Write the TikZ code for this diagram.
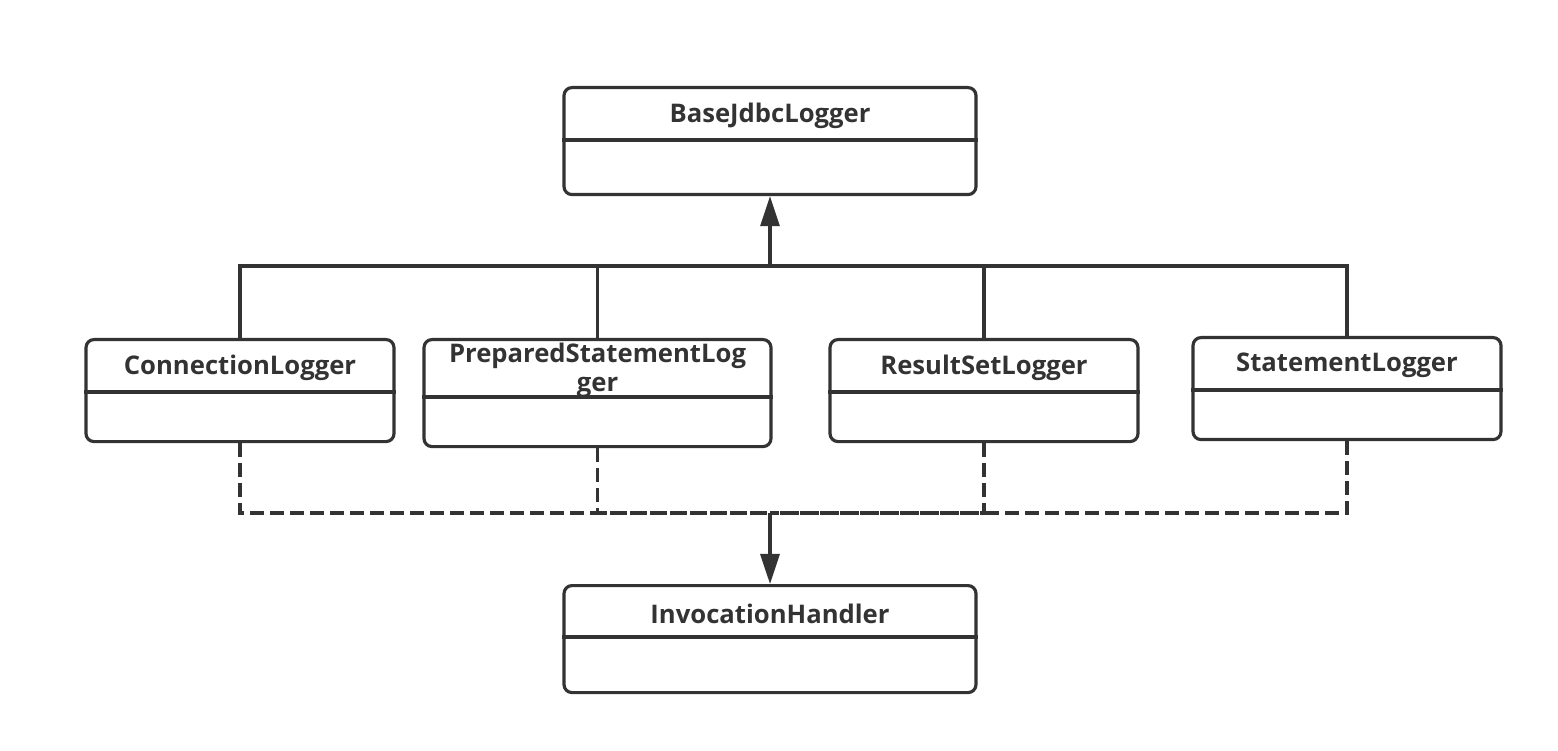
\documentclass[tikz,border=0pt]{standalone}
\usepackage{fontspec}
\setmainfont{Open Sans}
\usetikzlibrary{arrows.meta}
\definecolor{ink}{HTML}{333333}

\begin{document}
\begin{tikzpicture}[x=1cm, y=1cm]
  % page is the reference's 1558 x 750 px at 1px = 0.01cm
  \useasboundingbox (0,0) rectangle (15.58,7.50);
  \tikzset{
    cls/.style={draw=ink, line width=0.9pt, rounded corners=0.08cm,
                anchor=north, inner sep=0pt},
    clsname/.style={font=\bfseries\fontsize{7.3}{8.2}\selectfont, text=ink,
                    align=center},
    rule/.style={ink, line width=0.9pt},
    inherit/.style={ink, line width=0.9pt,
                    -{Triangle[length=0.30cm, width=0.19cm]}},
    uses/.style={ink, line width=0.9pt, dash pattern=on 0.14cm off 0.06cm}}

  % ========== the parent: BaseJdbcLogger ==================================
  \node[cls, minimum width=4.12cm, minimum height=1.07cm] (base) at (7.70,6.64) {};
  \node[clsname] (basename) at (7.70,6.34) {BaseJdbcLogger};
  \draw[rule] (base.west |- 0,6.10) -- (base.east |- 0,6.10);

  % ========== the four loggers ============================================
  % conn
  \node[cls, minimum width=3.08cm, minimum height=1.02cm] (conn) at (2.40,4.12) {};
  \node[clsname] (connname) at (2.40,3.82) {ConnectionLogger};
  \draw[rule] (conn.west |- 0,3.58) -- (conn.east |- 0,3.58);

  % prep -- its name wraps onto a second line
  \node[cls, minimum width=3.47cm, minimum height=1.07cm] (prep) at (5.975,4.12) {};
  \node[clsname] (prepname) at (5.975,3.80) {PreparedStatementLog\\ger};
  \draw[rule] (prep.west |- 0,3.53) -- (prep.east |- 0,3.53);

  % rset
  \node[cls, minimum width=3.08cm, minimum height=1.02cm] (rset) at (9.84,4.12) {};
  \node[clsname] (rsetname) at (9.84,3.82) {ResultSetLogger};
  \draw[rule] (rset.west |- 0,3.58) -- (rset.east |- 0,3.58);

  % stmt
  \node[cls, minimum width=3.08cm, minimum height=1.02cm] (stmt) at (13.47,4.14) {};
  \node[clsname] (stmtname) at (13.47,3.85) {StatementLogger};
  \draw[rule] (stmt.west |- 0,3.60) -- (stmt.east |- 0,3.60);

  % ========== the interface: InvocationHandler ============================
  \node[cls, minimum width=4.12cm, minimum height=1.07cm] (invk) at (7.70,1.66) {};
  \node[clsname] (invkname) at (7.70,1.36) {InvocationHandler};
  \draw[rule] (invk.west |- 0,1.13) -- (invk.east |- 0,1.13);

  % --- inheritance: solid bus up to the parent ----------------------------
  \coordinate (up) at (7.70,4.84);
  \foreach \c in {conn,prep,rset,stmt}
    \draw[rule] (\c.north) |- (up);
  \draw[inherit] (up) -- (base.south);

  % --- realisation: dashed bus down to the interface ----------------------
  \coordinate (down) at (7.70,2.37);
  \foreach \c in {conn,prep,rset,stmt}
    \draw[uses] (\c.south) |- (down);
  \draw[inherit] (down) -- (invk.north);
\end{tikzpicture}
\end{document}
